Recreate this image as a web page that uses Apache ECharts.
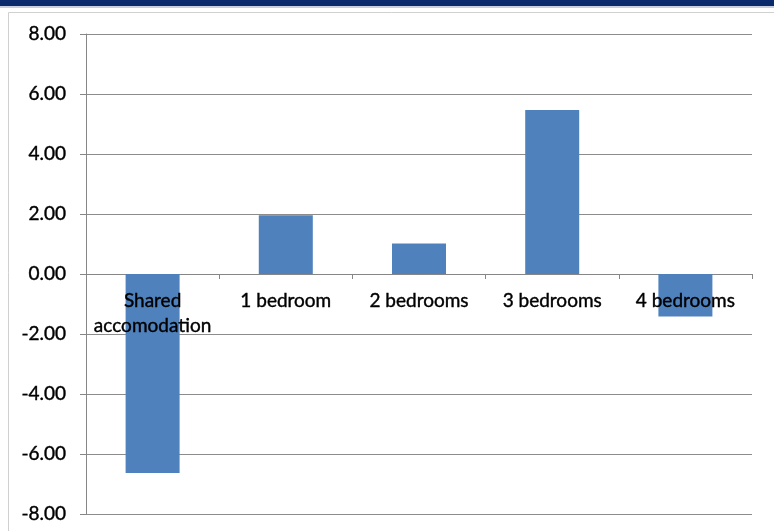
<!DOCTYPE html>
<html>
<head>
<meta charset="utf-8">
<script src="https://cdn.jsdelivr.net/npm/echarts@6/dist/echarts.min.js"></script>
<style>
html,body{margin:0;padding:0;background:#fff;}
#chart{width:774px;height:531px;}
</style>
</head>
<body>
<div id="chart"></div>
<script>
const categories = ['Shared\naccomodation', '1 bedroom', '2 bedrooms', '3 bedrooms', '4 bedrooms'];
const values = [-6.63, 1.96, 1.02, 5.47, -1.42];
const yTicks = { min: -8, max: 8, interval: 2 };

const chart = echarts.init(document.getElementById('chart'));
const font = 'Lato, "Open Sans", sans-serif';
chart.setOption({
  animation: false,
  backgroundColor: '#ffffff',
  graphic: [
    { type: 'rect', left: 0, top: 0, shape: { width: 774, height: 6 }, style: { fill: '#0b2a6b' }, silent: true },
    { type: 'rect', left: 0, top: 6, shape: { width: 774, height: 2 }, style: { fill: '#c9d0dd' }, silent: true },
    { type: 'rect', left: 6, top: 10, shape: { width: 780, height: 540 }, style: { fill: 'none', stroke: '#d0d0d0', lineWidth: 1 }, silent: true }
  ],
  grid: { left: 86, right: 22, top: 34, bottom: 17, containLabel: false, outerBoundsMode: 'none' },
  xAxis: [{
    type: 'category',
    data: categories,
    z: 0,
    axisLine: { onZero: true, lineStyle: { color: '#868686', width: 1 } },
    axisTick: { show: true, length: 5, lineStyle: { color: '#868686' } },
    axisLabel: { show: false },
    splitLine: { show: false }
  }, {
    type: 'category',
    data: categories,
    position: 'bottom',
    z: 5,
    axisLine: { show: false, onZero: false },
    axisTick: { show: false },
    axisLabel: { color: '#000', fontFamily: font, fontSize: 19, margin: -226, lineHeight: 25, interval: 0, textBorderColor: '#000', textBorderWidth: 0.4 },
    splitLine: { show: false }
  }],
  yAxis: {
    type: 'value',
    min: yTicks.min,
    max: yTicks.max,
    interval: yTicks.interval,
    axisLine: { show: true, lineStyle: { color: '#868686', width: 1 } },
    axisTick: { show: true, length: 6, lineStyle: { color: '#868686' } },
    axisLabel: { color: '#000', fontFamily: font, fontSize: 19, margin: 20, textBorderColor: '#000', textBorderWidth: 0.4, formatter: v => v.toFixed(2) },
    splitLine: { show: true, lineStyle: { color: '#8c8c8c', width: 1 } }
  },
  series: [{
    type: 'bar',
    data: values,
    xAxisIndex: 0,
    barWidth: 54,
    itemStyle: { color: '#4f81bd' },
    z: 2
  }]
});
</script>
</body>
</html>
